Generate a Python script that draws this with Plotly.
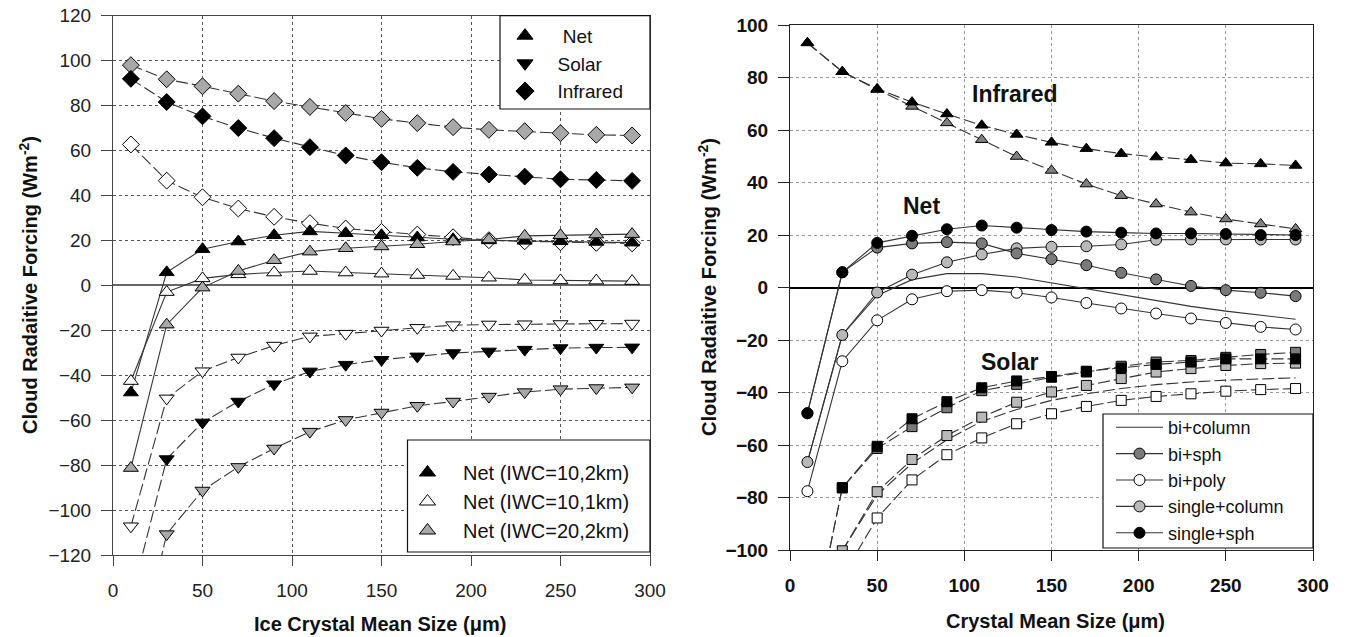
import plotly.graph_objects as go

# ---------------- data ----------------
size_um = [10, 30, 50, 70, 90, 110, 130, 150, 170, 190, 210, 230, 250, 270, 290]
x_ticks = [0, 50, 100, 150, 200, 250, 300]
y_ticks_left = [-120, -100, -80, -60, -40, -20, 0, 20, 40, 60, 80, 100, 120]
y_ticks_right = [-100, -80, -60, -40, -20, 0, 20, 40, 60, 80, 100]

# Left panel (IWC / cloud thickness cases)
net_10_2km = [-47.7, 5.8, 16.1, 19.5, 22.3, 24.0, 23.2, 22.3, 21.3, 20.5, 20.0, 19.8, 19.6, 19.3, 19.0]
net_10_1km = [-42.6, -3.0, 3.1, 4.9, 5.7, 6.4, 5.7, 5.2, 4.6, 4.2, 3.4, 2.4, 2.2, 2.1, 1.9]
net_20_2km = [-81.3, -17.5, -1.0, 6.4, 11.2, 15.0, 16.5, 17.3, 18.3, 19.5, 20.4, 22.0, 22.3, 22.6, 22.8]
sol_10_2km = [-140.0, -77.3, -61.0, -51.7, -44.0, -38.3, -35.3, -33.1, -31.6, -30.1, -29.4, -28.6, -27.9, -27.7, -27.6]
sol_10_1km = [-107.2, -50.3, -38.2, -32.1, -26.8, -22.7, -21.5, -20.1, -18.9, -17.7, -17.4, -17.3, -17.2, -17.1, -17.0]
sol_20_2km = [-179.0, -110.7, -91.3, -80.8, -72.6, -65.1, -59.9, -56.6, -53.6, -51.7, -49.5, -47.5, -46.2, -45.7, -45.4]
ir_10_2km = [91.9, 81.6, 75.2, 70.0, 65.5, 61.5, 57.8, 54.8, 52.3, 50.5, 49.3, 48.4, 47.2, 46.9, 46.5]
ir_20_2km = [98.0, 91.7, 88.6, 85.3, 82.0, 79.4, 76.7, 74.1, 72.2, 70.4, 69.2, 68.6, 67.7, 67.0, 66.7]
ir_10_1km = [62.7, 46.6, 39.2, 34.2, 30.5, 27.7, 25.3, 23.8, 22.6, 21.4, 20.1, 19.6, 19.2, 18.9, 18.7]

# Right panel (size distribution + habit schemes)
ir_single = [93.2, 82.2, 75.7, 70.6, 66.1, 61.8, 58.3, 55.3, 52.9, 51.0, 49.7, 48.7, 47.4, 47.1, 46.5]
ir_bi = [93.2, 82.2, 75.4, 69.0, 62.7, 56.3, 49.9, 44.6, 39.4, 35.0, 31.8, 28.7, 26.1, 24.2, 22.3]

net_bi_column = [-66.5, -18.1, -3.0, 3.0, 5.3, 5.3, 4.0, 1.8, -0.6, -2.8, -5.0, -7.2, -9.0, -10.6, -12.1]
net_bi_sph = [-47.9, 5.8, 15.2, 16.8, 17.3, 16.8, 13.0, 10.8, 8.5, 5.6, 3.1, 0.6, -1.0, -2.0, -3.3]
net_bi_poly = [-77.6, -28.1, -12.5, -4.5, -1.4, -1.0, -2.0, -3.8, -5.9, -8.0, -9.9, -11.8, -13.5, -15.0, -16.0]
net_single_column = [-66.5, -18.1, -1.9, 4.9, 9.6, 12.6, 14.9, 15.5, 15.7, 16.4, 18.2, 18.3, 18.3, 18.3, 18.3]
net_single_sph = [-47.9, 5.8, 17.0, 19.7, 22.2, 23.6, 22.8, 21.9, 21.3, 20.9, 20.6, 20.6, 20.4, 20.0, 20.0]

sol_bi_column = [-160.0, -100.3, -79.0, -67.0, -58.0, -51.0, -46.5, -43.0, -40.5, -38.5, -37.0, -36.0, -35.3, -34.8, -34.4]
sol_bi_sph = [-141.0, -76.3, -61.3, -53.0, -45.8, -39.3, -36.9, -34.2, -32.2, -30.0, -28.4, -27.8, -26.6, -25.5, -24.7]
sol_bi_poly = [-171.0, -110.3, -87.8, -73.3, -63.7, -57.3, -51.9, -48.1, -45.3, -43.0, -41.5, -40.5, -39.5, -38.9, -38.5]
sol_single_column = [-160.0, -100.3, -77.8, -65.5, -56.4, -49.4, -43.7, -39.8, -37.3, -34.7, -32.2, -30.9, -29.7, -29.0, -28.8]
sol_single_sph = [-141.0, -76.3, -60.5, -50.0, -43.5, -38.2, -35.6, -33.9, -31.9, -30.7, -29.3, -28.4, -27.2, -27.2, -27.2]

# ---------------- styling ----------------
W, H = 1347, 637
FONT = "Liberation Sans, Arial, Helvetica, sans-serif"
BLACK = "#000000"
WHITE = "#ffffff"
GRAY_L = "#a8a8a8"      # left panel gray markers
DARK = "#7a7a7a"        # bi+sph
LIGHT = "#b9b9b9"       # single+column
LINE = "#333333"
DASH = "12px,4px"


def px_x(p):
    return p / W


def px_y(p):
    return 1 - p / H


fig = go.Figure()


def add(x, y, xa, ya, symbol, fill, dash="solid", msize=12, name=None,
        legend=None, showlegend=False, mode="lines+markers", rank=None):
    kw = {}
    if rank is not None:
        kw["legendrank"] = rank
    fig.add_trace(go.Scatter(
        x=x, y=y, xaxis=xa, yaxis=ya, mode=mode, name=name,
        showlegend=showlegend, legend=legend,
        line=dict(color=LINE, width=1.1, dash=dash),
        marker=dict(symbol=symbol, size=msize, color=fill,
                    line=dict(color=BLACK, width=1)),
        cliponaxis=True, hoverinfo="skip", **kw))


# ----- left panel -----
add(size_um, ir_20_2km, "x", "y", "diamond", GRAY_L, DASH, 13)
add(size_um, ir_10_1km, "x", "y", "diamond", WHITE, DASH, 13)
add(size_um, ir_10_2km, "x", "y", "diamond", BLACK, DASH, 13)
add(size_um, sol_20_2km, "x", "y", "triangle-down", GRAY_L, DASH, 13)
add(size_um, sol_10_1km, "x", "y", "triangle-down", WHITE, DASH, 13)
add(size_um, sol_10_2km, "x", "y", "triangle-down", BLACK, DASH, 13)
add(size_um, net_10_2km, "x", "y", "triangle-up", BLACK, "solid", 13)
add(size_um, net_10_1km, "x", "y", "triangle-up", WHITE, "solid", 13)
add(size_um, net_20_2km, "x", "y", "triangle-up", GRAY_L, "solid", 13)

# left legend entries (markers only)
for lbl, sym in [("\u00a0Net", "triangle-up"), ("Solar", "triangle-down"), ("Infrared", "diamond")]:
    fig.add_trace(go.Scatter(x=[None], y=[None], xaxis="x", yaxis="y", mode="markers",
                             name=lbl, legend="legend", showlegend=True, hoverinfo="skip",
                             marker=dict(symbol=sym, size=14, color=BLACK,
                                         line=dict(color=BLACK, width=1))))
for lbl, col in [("Net (IWC=10,2km)", BLACK), ("Net (IWC=10,1km)", WHITE), ("Net (IWC=20,2km)", GRAY_L)]:
    fig.add_trace(go.Scatter(x=[None], y=[None], xaxis="x", yaxis="y", mode="markers",
                             name=lbl, legend="legend2", showlegend=True, hoverinfo="skip",
                             marker=dict(symbol="triangle-up", size=14, color=col,
                                         line=dict(color=BLACK, width=1))))

# ----- right panel -----
add(size_um, ir_bi, "x2", "y2", "triangle-up", "#808080", DASH, 11)
add(size_um, ir_single, "x2", "y2", "triangle-up", BLACK, DASH, 11)

add(size_um, sol_bi_column, "x2", "y2", "square", WHITE, DASH, 10, mode="lines")
add(size_um, sol_bi_poly, "x2", "y2", "square", WHITE, DASH, 10)
add(size_um, sol_single_column, "x2", "y2", "square", LIGHT, DASH, 10)
add(size_um, sol_bi_sph, "x2", "y2", "square", DARK, DASH, 10)
add(size_um, sol_single_sph, "x2", "y2", "square", BLACK, DASH, 10)

add(size_um, net_bi_column, "x2", "y2", "circle", WHITE, "solid", 11, name="bi+column",
    legend="legend3", showlegend=True, mode="lines", rank=1)
add(size_um, net_bi_poly, "x2", "y2", "circle", WHITE, "solid", 11, name="bi+poly",
    legend="legend3", showlegend=True, rank=3)
add(size_um, net_single_column, "x2", "y2", "circle", LIGHT, "solid", 11, name="single+column",
    legend="legend3", showlegend=True, rank=4)
add(size_um, net_bi_sph, "x2", "y2", "circle", DARK, "solid", 11, name="bi+sph",
    legend="legend3", showlegend=True, rank=2)
add(size_um, net_single_sph, "x2", "y2", "circle", BLACK, "solid", 11, name="single+sph",
    legend="legend3", showlegend=True, rank=5)

# ---------------- axes ----------------
common_x = dict(range=[0, 300], tickmode="array", tickvals=x_ticks, ticks="outside",
                ticklen=10, tickwidth=1, showline=True, mirror=True, zeroline=False,
                showgrid=True, griddash="dot", gridwidth=1, ticklabelstandoff=8,
                automargin=False)
common_y = dict(tickmode="array", ticks="outside", ticklen=11, tickwidth=1,
                showline=True, mirror=True, showgrid=True, griddash="dot",
                gridwidth=1, zeroline=True, ticklabelstandoff=6, automargin=False)

fig.update_layout(
    xaxis=dict(domain=[px_x(113), px_x(650)], anchor="y", linecolor="#444", tickcolor="#444",
               gridcolor="#555", tickfont=dict(family=FONT, size=19, color="#222"), **common_x),
    yaxis=dict(domain=[px_y(555), px_y(15.7)], anchor="x", range=[-120, 120],
               tickvals=y_ticks_left, linecolor="#444", tickcolor="#444", gridcolor="#555",
               zerolinecolor="#666", zerolinewidth=1.5,
               tickfont=dict(family=FONT, size=19, color="#222"), **common_y),
    xaxis2=dict(domain=[px_x(790), px_x(1313)], anchor="y2", linecolor="#222", tickcolor="#222",
                gridcolor="#999",
                tickfont=dict(family=FONT, size=19, color="#111", weight="bold"), **common_x),
    yaxis2=dict(domain=[px_y(550), px_y(25)], anchor="x2", range=[-100, 100],
                tickvals=y_ticks_right, linecolor="#222", tickcolor="#222", gridcolor="#999",
                zerolinecolor="#000", zerolinewidth=2,
                tickfont=dict(family=FONT, size=19, color="#111", weight="bold"), **common_y),
)

# ---------------- legends ----------------
leg_common = dict(bgcolor="rgba(0,0,0,0)", borderwidth=0, xanchor="left", yanchor="top",
                  xref="paper", yref="paper", tracegroupgap=0)
fig.update_layout(
    legend=dict(x=px_x(492.5), y=px_y(16.8), itemwidth=55,
                font=dict(family=FONT, size=19, color="#111"), **leg_common),
    legend2=dict(x=px_x(392), y=px_y(453), itemwidth=61,
                 font=dict(family=FONT, size=20, color="#111"), **leg_common),
    legend3=dict(x=px_x(1111), y=px_y(409), itemwidth=47, traceorder="normal",
                 font=dict(family=FONT, size=18, color="#111"), **leg_common),
)

# legend boxes
box = dict(type="rect", xref="paper", yref="paper", layer="above",
           line=dict(color="#111", width=1.2), fillcolor="white")
fig.add_shape(x0=px_x(500), x1=px_x(650), y0=px_y(109), y1=px_y(15.7), **box)
fig.add_shape(x0=px_x(407.5), x1=px_x(650), y0=px_y(552), y1=px_y(440), **box)
fig.add_shape(x0=px_x(1103), x1=px_x(1313), y0=px_y(548), y1=px_y(414), **box)

# ---------------- titles / labels ----------------
tfont = dict(family=FONT, size=20, color="#111", weight="bold")
ann = [
    dict(text="Cloud Radaitive Forcing (Wm<sup>-2</sup>)", x=px_x(29), y=px_y(285), textangle=-90),
    dict(text="Ice Crystal Mean Size (\u03bcm)", x=px_x(380), y=px_y(624)),
    dict(text="Cloud Radaitive Forcing (Wm<sup>-2</sup>)", x=px_x(708), y=px_y(287), textangle=-90),
    dict(text="Crystal Mean Size (\u03bcm)", x=px_x(1055), y=px_y(621)),
]
for a in ann:
    fig.add_annotation(xref="paper", yref="paper", showarrow=False, xanchor="center",
                       yanchor="middle", font=tfont, **a)

lfont = dict(family=FONT, size=23, color="#111", weight="bold")
for txt, xv, yv in [("Infrared", 129, 73.7), ("Net", 75.4, 31.0), ("Solar", 126, -28.4)]:
    fig.add_annotation(xref="x2", yref="y2", x=xv, y=yv, text=txt, showarrow=False,
                       xanchor="center", yanchor="middle", font=lfont)

fig.update_layout(width=W, height=H, margin=dict(l=0, r=0, t=0, b=0, autoexpand=False),
                  paper_bgcolor="white", plot_bgcolor="white", showlegend=True)

fig.write_html(
    "out.html",
    config={"displayModeBar": False},
    post_script="document.body.style.margin='0';document.body.style.padding='0';"
                "document.body.style.overflow='hidden';",
)
